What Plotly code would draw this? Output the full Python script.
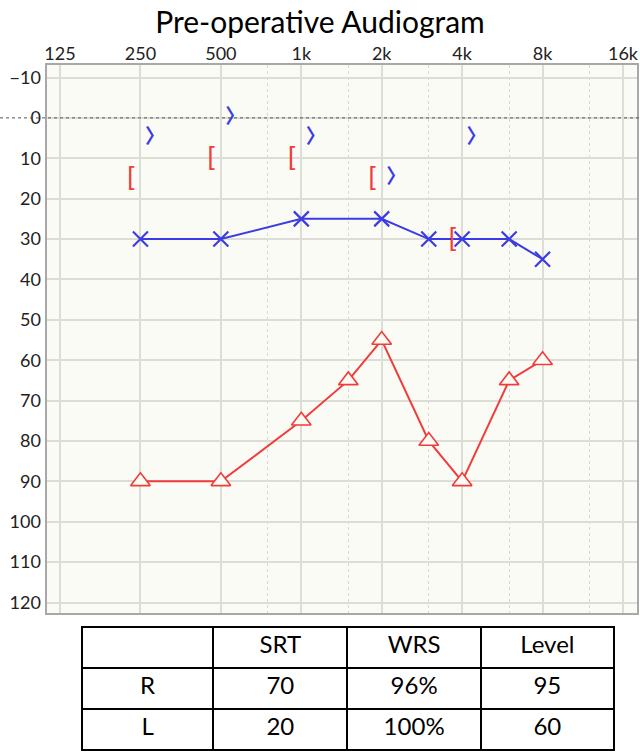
import plotly.graph_objects as go
import numpy as np

# ---- data ----
freq_ticks = [125, 250, 500, 1000, 2000, 4000, 8000, 16000]
freq_tick_labels = ["125", "250", "500", "1k", "2k", "4k", "8k", "16k"]
half_octaves = [750, 1500, 3000, 6000, 12000]
db_ticks = list(range(-10, 121, 10))

right_ac_freq = [250, 500, 1000, 1500, 2000, 3000, 4000, 6000, 8000]
right_ac_db = [90, 90, 75, 65, 55, 80, 90, 65, 60]

left_ac_freq = [250, 500, 1000, 2000, 3000, 4000, 6000, 8000]
left_ac_db = [30, 30, 25, 25, 30, 30, 30, 35]

left_bc_freq = [250, 500, 1000, 2000, 4000]
left_bc_db = [5, 0, 5, 15, 5]

right_bc_freq = [250, 500, 1000, 2000, 4000]
right_bc_db = [15, 10, 10, 15, 30]

table_header = ["", "SRT", "WRS", "Level"]
table_ears = ["R", "L"]
table_srt = ["70", "20"]
table_wrs = ["96%", "100%"]
table_level = ["95", "60"]

# ---- styles ----
BG = "#FBFBF5"
RED = "#F03C3C"
BLUE = "#3C3CE6"
FONT = "Lato"
LEFT_BC_SHIFT = 0.18   # octaves (text box centre; glyph sits left in its box)
RIGHT_BC_SHIFT = 0.12  # octaves

L, R, T, B = 46.5, 636.5, 65, 613
W, H = 640, 754
oct_log = np.log10(2)

fig = go.Figure()

# Right AC (red triangles)
fig.add_trace(go.Scatter(
    x=right_ac_freq, y=right_ac_db, mode="lines+markers",
    line=dict(color=RED, width=2),
    marker=dict(symbol="triangle-up", size=17, color=BG,
                line=dict(color=RED, width=1.6)),
    showlegend=False, hoverinfo="skip"))

# Left AC (blue X)
fig.add_trace(go.Scatter(
    x=left_ac_freq, y=left_ac_db, mode="lines+markers",
    line=dict(color=BLUE, width=2),
    marker=dict(symbol="x-thin-open", size=15,
                line=dict(color=BLUE, width=2.2)),
    showlegend=False, hoverinfo="skip"))

# Left BC unmasked (blue >)
fig.add_trace(go.Scatter(
    x=[f * 2 ** LEFT_BC_SHIFT for f in left_bc_freq], y=left_bc_db,
    mode="text", text=["\u3009"] * len(left_bc_freq),
    textposition="middle center",
    textfont=dict(family="Noto Sans CJK JP", size=20, color=BLUE, weight="bold"),
    showlegend=False, hoverinfo="skip"))

# Right BC masked (red [)
fig.add_trace(go.Scatter(
    x=[f * 2 ** (-RIGHT_BC_SHIFT) for f in right_bc_freq], y=right_bc_db,
    mode="text", text=["["] * len(right_bc_freq),
    textposition="middle center",
    textfont=dict(family="Liberation Sans", size=26, color=RED),
    showlegend=False, hoverinfo="skip"))

# dotted 0 dB reference line
fig.add_shape(type="line", xref="paper", x0=0, x1=1, yref="y", y0=0, y1=0,
              line=dict(color="#555555", width=1, dash="dot"))

# table
fig.add_trace(go.Table(
    domain=dict(x=[82 / W, 614 / W], y=[3 / H, (H - 627) / H]),
    columnwidth=[131, 134, 133, 133],
    header=dict(values=table_header, height=41,
                fill_color="white", line=dict(color="black", width=2),
                font=dict(family=FONT, size=24, color="black"),
                align="center"),
    cells=dict(values=[table_ears, table_srt, table_wrs, table_level],
               height=41, fill_color="white",
               line=dict(color="black", width=2),
               font=dict(family=FONT, size=24, color="black"),
               align="center")))

fig.update_layout(
    width=W, height=H,
    margin=dict(l=0, r=0, t=0, b=0, autoexpand=False),
    paper_bgcolor="white", plot_bgcolor=BG,
    title=dict(text="Pre-operative Audiogram", x=0.5, xanchor="center",
               y=1 - 22 / H, yanchor="middle",
               font=dict(family=FONT, size=30, color="black")),
    font=dict(family=FONT, color="#222222"),
    xaxis=dict(type="log", side="top", automargin=False,
               domain=[L / W, R / W],
               range=[np.log10(125) - 0.168 * oct_log,
                      np.log10(16000) + 0.168 * oct_log],
               tickmode="array", tickvals=freq_ticks, ticktext=freq_tick_labels,
               tickfont=dict(size=18, color="#222222"),
               ticklabelstandoff=-4,
               ticks="", ticklen=0, showgrid=True, gridcolor="#DDDDD8", gridwidth=1.5,
               minor=dict(tickmode="array", tickvals=half_octaves, showgrid=True,
                          gridcolor="#D8D8D8", griddash="dot", gridwidth=1),
               showline=True, mirror=True, linecolor="#A8A8A8", linewidth=2,
               zeroline=False, fixedrange=True),
    yaxis=dict(automargin=False,
               domain=[(H - B) / H, (H - T) / H],
               range=[122.6, -13.1],
               tickmode="array", tickvals=db_ticks,
               tickfont=dict(size=18, color="#222222"),
               ticks="", showgrid=True, gridcolor="#DDDDD8", gridwidth=1.5,
               showline=True, mirror=True, linecolor="#A8A8A8", linewidth=2,
               zeroline=False, fixedrange=True),
)

fig.write_html("out.html", config={"displayModeBar": False},
               post_script="document.body.style.margin='0px';document.body.style.overflow='hidden';")
